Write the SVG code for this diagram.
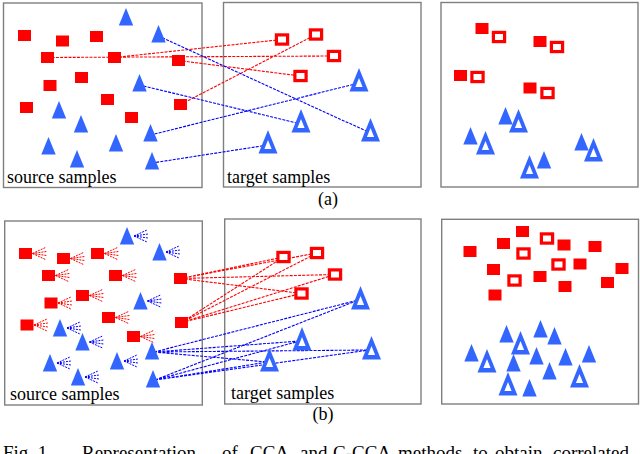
<svg xmlns="http://www.w3.org/2000/svg" width="640" height="454" viewBox="0 0 640 454">
<style>
.box{fill:#fff;stroke:#7f7f7f;stroke-width:1.4}
.rl{fill:none;stroke:#ff0000;stroke-width:1.1;stroke-dasharray:3 1.2}
.bl{fill:none;stroke:#0000ff;stroke-width:1.1;stroke-dasharray:3 1.2}
text{font-family:'Liberation Serif','Times New Roman','DejaVu Serif',serif;fill:#000}
.lbl{font-size:18px}
.cap{font-size:19px}
</style>
<defs>
<rect id="sq" x="-6.5" y="-5.5" width="13" height="11" fill="#ff0000"/>
<path id="tri" d="M0,0 L7.2,17.5 L-7.2,17.5 Z" fill="#3366ff"/>
<rect id="hsq" x="-5.6" y="-4.6" width="11.2" height="9.2" fill="#fff" stroke="#ff0000" stroke-width="3.2"/>
<g id="htri"><path d="M0,0 L9.5,23.5 L-9.5,23.5 Z" fill="#3366ff"/><path d="M0,10 L3.6,19 L-3.6,19 Z" fill="#fff"/></g>
<g id="fanr" fill="none" stroke="#ff0000" stroke-width="1" stroke-dasharray="2 1"><path d="M0,0 L13,-6 M0,0 L14,-2 M0,0 L14,2 M0,0 L13,6"/></g>
<g id="fanb" fill="none" stroke="#0000ff" stroke-width="1" stroke-dasharray="2 1"><path d="M0,0 L13,-6 M0,0 L14,-2 M0,0 L14,2 M0,0 L13,6"/></g>
</defs>
<rect width="640" height="454" fill="#fff"/>
<g id="frames">
<rect class="box" x="3.5" y="3" width="198.5" height="184.5"/>
<rect class="box" x="223.5" y="2.5" width="197.5" height="184.5"/>
<rect class="box" x="441" y="2.5" width="197" height="184.5"/>
<rect class="box" x="4.7" y="221" width="197.6" height="184"/>
<rect class="box" x="224.7" y="219" width="196.3" height="185"/>
<rect class="box" x="441.7" y="219.3" width="196.8" height="184.7"/>
</g>
<g id="connectors">
<path class="rl" d="M47.5,57.5 L334,56"/>
<path class="rl" d="M114.5,57.5 L282,39.5"/>
<path class="rl" d="M178.5,60.5 L300.5,76"/>
<path class="rl" d="M180.5,104.5 L316,34.5"/>
<path class="bl" d="M158.5,36 L370.5,133"/>
<path class="bl" d="M139.5,85 L301,124"/>
<path class="bl" d="M150.5,135 L359,83"/>
<path class="bl" d="M152,163 L268,145"/>
<path class="rl" d="M180.5,278.5 L283.5,257 M180.5,278.5 L317,253 M180.5,278.5 L335,274.5 M180.5,278.5 L301.5,293.5"/>
<path class="rl" d="M181.5,322.5 L283.5,257 M181.5,322.5 L317,253 M181.5,322.5 L335,274.5 M181.5,322.5 L301.5,293.5"/>
<path class="bl" d="M154,352 L358.5,300 M154,352 L300,341 M154,352 L369.5,350 M154,352 L267.5,362"/>
<path class="bl" d="M155,380 L358.5,300 M155,380 L300,341 M155,380 L369.5,350 M155,380 L267.5,362"/>
<use href="#fanr" x="32.5" y="253.5"/><use href="#fanr" x="70.5" y="258.5"/><use href="#fanr" x="104.5" y="253.5"/>
<use href="#fanr" x="55.5" y="275.5"/><use href="#fanr" x="122.5" y="275.5"/><use href="#fanr" x="89.5" y="295.5"/>
<use href="#fanr" x="58" y="303"/><use href="#fanr" x="115.5" y="317.5"/><use href="#fanr" x="34" y="325"/>
<use href="#fanr" x="140.5" y="336.5"/>
<use href="#fanb" x="134" y="236"/><use href="#fanb" x="166" y="252"/><use href="#fanb" x="147.5" y="301"/>
<use href="#fanb" x="67" y="328"/><use href="#fanb" x="89.5" y="342"/><use href="#fanb" x="57" y="363"/>
<use href="#fanb" x="124" y="361"/><use href="#fanb" x="85" y="377"/>
</g>
<g id="a-source">
<g id="a-s1"><use href="#sq" x="24.5" y="35.5"/></g>
<g id="a-s2"><use href="#sq" x="62.5" y="41"/></g>
<g id="a-s3"><use href="#sq" x="96.5" y="36.5"/></g>
<g id="a-s4"><use href="#sq" x="47.5" y="57.5"/></g>
<g id="a-s5"><use href="#sq" x="114.5" y="57.5"/></g>
<g id="a-s6"><use href="#sq" x="178.5" y="60.5"/></g>
<g id="a-s7"><use href="#sq" x="50" y="85.5"/></g>
<g id="a-s8"><use href="#sq" x="81.5" y="77.5"/></g>
<g id="a-s9"><use href="#sq" x="107.5" y="99.5"/></g>
<g id="a-s10"><use href="#sq" x="26.5" y="107.5"/></g>
<g id="a-s11"><use href="#sq" x="180.5" y="104.5"/></g>
<g id="a-s12"><use href="#sq" x="131.5" y="117.5"/></g>
<g id="a-t1"><use href="#tri" x="126" y="8"/></g>
<g id="a-t2"><use href="#tri" x="158.5" y="25"/></g>
<g id="a-t3"><use href="#tri" x="139.5" y="74"/></g>
<g id="a-t4"><use href="#tri" x="59" y="101"/></g>
<g id="a-t5"><use href="#tri" x="81" y="115"/></g>
<g id="a-t6"><use href="#tri" x="150.5" y="124"/></g>
<g id="a-t7"><use href="#tri" x="48.5" y="137"/></g>
<g id="a-t8"><use href="#tri" x="116" y="134"/></g>
<g id="a-t9"><use href="#tri" x="77" y="150"/></g>
<g id="a-t10"><use href="#tri" x="152" y="152"/></g>
<text class="lbl" x="7" y="183" font-family="Liberation Serif, serif">source samples</text>
</g>
<g id="a-target">
<g id="a-hs1"><use href="#hsq" x="282" y="39.5"/></g>
<g id="a-hs2"><use href="#hsq" x="316" y="34.5"/></g>
<g id="a-hs3"><use href="#hsq" x="334" y="56"/></g>
<g id="a-hs4"><use href="#hsq" x="300.5" y="76"/></g>
<g id="a-ht1"><use href="#htri" x="359" y="68"/></g>
<g id="a-ht2"><use href="#htri" x="301" y="109"/></g>
<g id="a-ht3"><use href="#htri" x="370.5" y="118"/></g>
<g id="a-ht4"><use href="#htri" x="268" y="130"/></g>
<text class="lbl" x="227" y="183" font-family="Liberation Serif, serif">target samples</text>
</g>
<g id="a-result">
<g id="a-r1"><use href="#sq" x="482" y="28.5"/><use href="#hsq" x="499" y="37"/></g>
<g id="a-r2"><use href="#sq" x="540" y="41.5"/><use href="#hsq" x="557" y="47"/></g>
<g id="a-r3"><use href="#sq" x="460.5" y="75.5"/><use href="#hsq" x="477.5" y="77"/></g>
<g id="a-r4"><use href="#sq" x="530" y="88"/><use href="#hsq" x="547.5" y="93"/></g>
<g id="a-r5"><use href="#tri" x="505.5" y="107"/><use href="#htri" x="518.5" y="109"/></g>
<g id="a-r6"><use href="#tri" x="470.5" y="127"/><use href="#htri" x="485.5" y="131"/></g>
<g id="a-r7"><use href="#tri" x="581.5" y="133"/><use href="#htri" x="593.5" y="138"/></g>
<g id="a-r8"><use href="#tri" x="544" y="151"/><use href="#htri" x="529.5" y="155"/></g>
</g>
<text class="lbl" x="328" y="205" text-anchor="middle" font-family="Liberation Serif, serif">(a)</text>
<g id="b-source">
<g id="b-s1"><use href="#sq" x="25.5" y="253.5"/></g>
<g id="b-s2"><use href="#sq" x="63.5" y="258.5"/></g>
<g id="b-s3"><use href="#sq" x="97.5" y="253.5"/></g>
<g id="b-s4"><use href="#sq" x="48.5" y="275.5"/></g>
<g id="b-s5"><use href="#sq" x="115.5" y="275.5"/></g>
<g id="b-s6"><use href="#sq" x="180.5" y="278.5"/></g>
<g id="b-s7"><use href="#sq" x="82.5" y="295.5"/></g>
<g id="b-s8"><use href="#sq" x="51" y="303"/></g>
<g id="b-s9"><use href="#sq" x="108.5" y="317.5"/></g>
<g id="b-s10"><use href="#sq" x="27" y="325"/></g>
<g id="b-s11"><use href="#sq" x="181.5" y="322.5"/></g>
<g id="b-s12"><use href="#sq" x="133.5" y="336.5"/></g>
<g id="b-t1"><use href="#tri" x="127" y="227"/></g>
<g id="b-t2"><use href="#tri" x="159.5" y="243"/></g>
<g id="b-t3"><use href="#tri" x="140.5" y="292"/></g>
<g id="b-t4"><use href="#tri" x="60" y="319"/></g>
<g id="b-t5"><use href="#tri" x="82.5" y="333"/></g>
<g id="b-t6"><use href="#tri" x="152" y="342"/></g>
<g id="b-t7"><use href="#tri" x="50" y="354"/></g>
<g id="b-t8"><use href="#tri" x="117" y="352"/></g>
<g id="b-t9"><use href="#tri" x="78" y="368"/></g>
<g id="b-t10"><use href="#tri" x="153" y="370"/></g>
<text class="lbl" x="10" y="400" font-family="Liberation Serif, serif">source samples</text>
</g>
<g id="b-target">
<g id="b-hs1"><use href="#hsq" x="283.5" y="257"/></g>
<g id="b-hs2"><use href="#hsq" x="317" y="253"/></g>
<g id="b-hs3"><use href="#hsq" x="335" y="274.5"/></g>
<g id="b-hs4"><use href="#hsq" x="301.5" y="293.5"/></g>
<g id="b-ht1"><use href="#htri" x="360.5" y="286"/></g>
<g id="b-ht2"><use href="#htri" x="302" y="327"/></g>
<g id="b-ht3"><use href="#htri" x="371.5" y="336"/></g>
<g id="b-ht4"><use href="#htri" x="269.5" y="348"/></g>
<text class="lbl" x="231" y="399" font-family="Liberation Serif, serif">target samples</text>
</g>
<g id="b-result">
<g id="b-r-sq">
<use href="#sq" x="522.5" y="231.5"/><use href="#sq" x="503.5" y="243.5"/><use href="#sq" x="470" y="251.5"/>
<use href="#sq" x="564" y="245"/><use href="#sq" x="595" y="246.5"/><use href="#sq" x="493.5" y="269.5"/>
<use href="#sq" x="580" y="264"/><use href="#sq" x="622" y="268.5"/><use href="#sq" x="540" y="276.5"/>
<use href="#sq" x="607.5" y="282.5"/><use href="#sq" x="565" y="286.5"/><use href="#sq" x="495" y="295"/>
</g>
<g id="b-r-hsq">
<use href="#hsq" x="547" y="238.5"/><use href="#hsq" x="523.5" y="253.5"/><use href="#hsq" x="558.5" y="264.5"/><use href="#hsq" x="514.5" y="280.5"/>
</g>
<g id="b-r-tri">
<use href="#tri" x="506.5" y="325"/><use href="#tri" x="540.5" y="320"/><use href="#tri" x="554.5" y="327"/>
<use href="#tri" x="471.5" y="344"/><use href="#tri" x="536.5" y="347"/><use href="#tri" x="513.5" y="354"/>
<use href="#tri" x="565.5" y="348"/><use href="#tri" x="589" y="345"/><use href="#tri" x="549.5" y="362"/>
<use href="#tri" x="529.5" y="379"/>
</g>
<g id="b-r-htri">
<use href="#htri" x="520.5" y="331"/><use href="#htri" x="487" y="349"/><use href="#htri" x="579.5" y="364"/><use href="#htri" x="508" y="372"/>
</g>
</g>
<text class="lbl" x="323" y="420" text-anchor="middle" font-family="Liberation Serif, serif">(b)</text>
<g id="caption">
<text class="cap" x="3" y="459" font-family="Liberation Serif, serif">Fig. 1.</text>
<text class="cap" x="82" y="459" font-family="Liberation Serif, serif">Representation</text>
<text class="cap" x="222" y="459" font-family="Liberation Serif, serif">of</text>
<text class="cap" x="250" y="459" font-family="Liberation Serif, serif">CCA</text>
<text class="cap" x="300" y="459" font-family="Liberation Serif, serif">and</text>
<text class="cap" x="333" y="459" font-family="Liberation Serif, serif">C-CCA</text>
<text class="cap" x="398" y="459" font-family="Liberation Serif, serif">methods</text>
<text class="cap" x="473" y="459" font-family="Liberation Serif, serif">to</text>
<text class="cap" x="495" y="459" font-family="Liberation Serif, serif">obtain</text>
<text class="cap" x="553" y="459" font-family="Liberation Serif, serif">correlated</text>
</g>
</svg>
